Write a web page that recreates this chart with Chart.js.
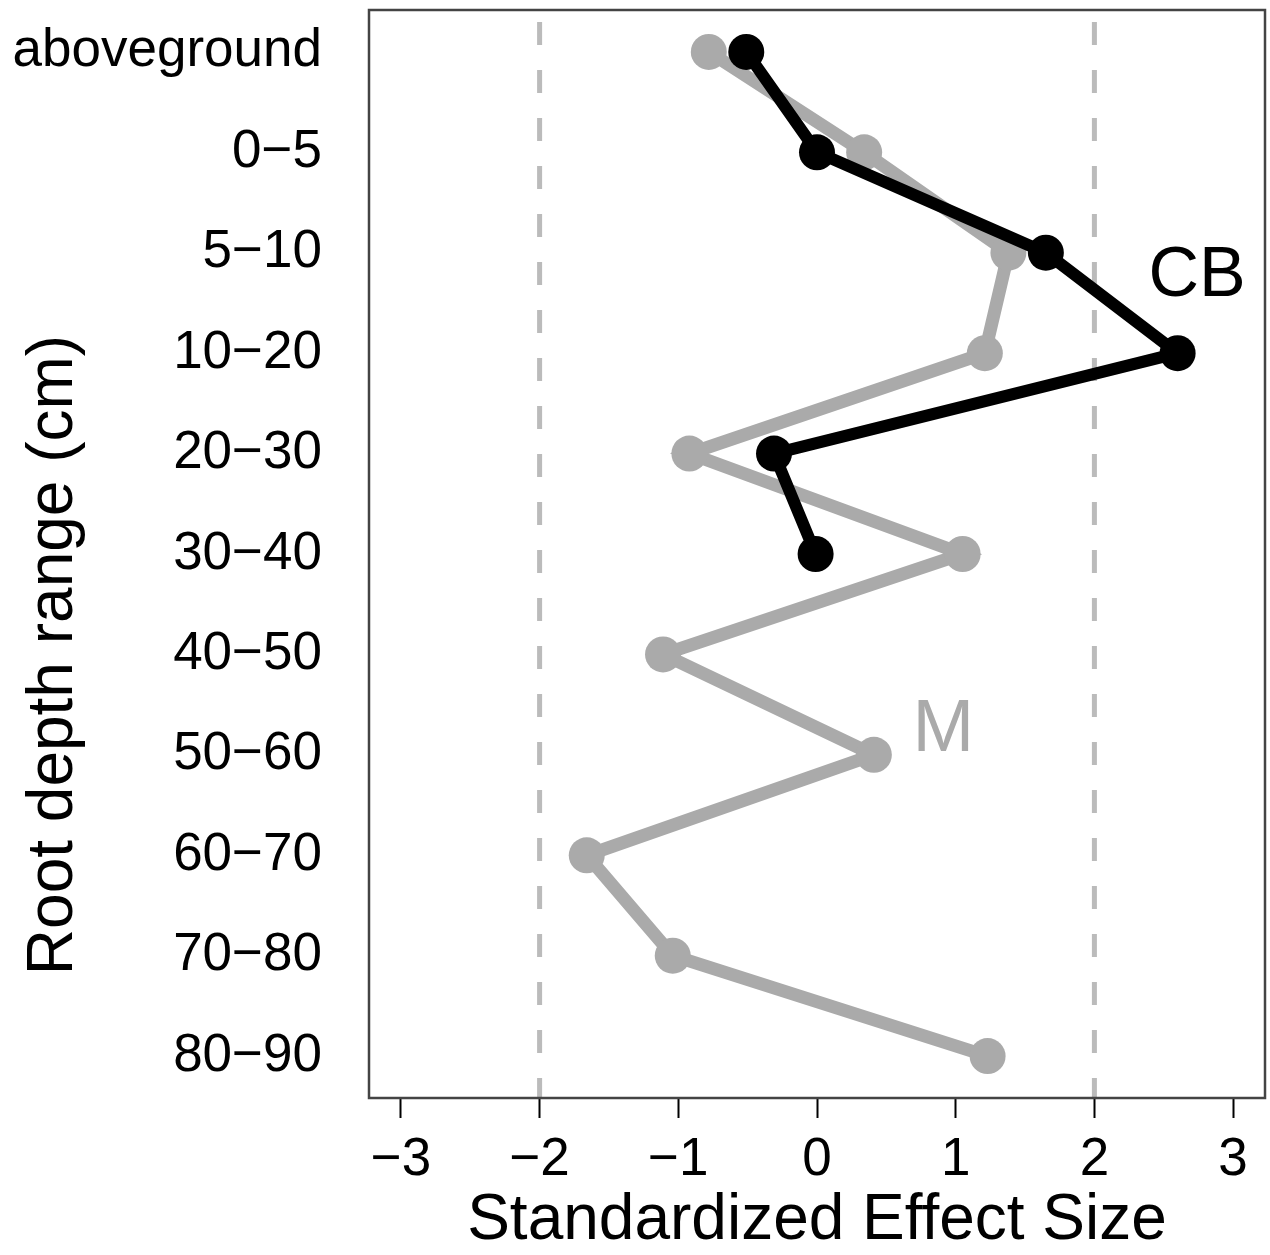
<!DOCTYPE html>
<html>
<head>
<meta charset="utf-8">
<script src="https://cdn.jsdelivr.net/npm/chart.js@4/dist/chart.umd.min.js"></script>
<style>
  body { margin: 0; background: #fff; }
  #wrap { width: 1270px; height: 1255px; }
</style>
</head>
<body>
<div id="wrap"><canvas id="esChart" width="1270" height="1255"></canvas></div>
<script>
const depthLabels = ["aboveground", "0\u22125", "5\u221210", "10\u221220", "20\u221230", "30\u221240",
  "40\u221250", "50\u221260", "60\u221270", "70\u221280", "80\u221290"];
const mValues = [-0.78, 0.34, 1.38, 1.21, -0.92, 1.05, -1.11, 0.41, -1.66, -1.04, 1.23];
const cbValues = [-0.51, 0.0, 1.65, 2.60, -0.31, -0.01];
const xTicks = [-3, -2, -1, 0, 1, 2, 3];
const refLines = [-2, 2];
const seriesTags = [
  { text: "CB", x: 2.74, y: 2.24, size: 70, color: "#000000" },
  { text: "M", x: 0.91, y: 6.76, size: 74, color: "#aaaaaa" }
];
const yTitle = "Root depth range (cm)";

const FONT = "'Liberation Sans', Arial, sans-serif";
Chart.defaults.font.family = FONT;
Chart.defaults.color = "#000";

const toPoints = vals => vals.map((v, i) => ({ x: v, y: i }));

// dashed reference lines, plot box, series tags and the y title
const framePlugin = {
  id: "frame",
  beforeDatasetsDraw(chart) {
    const { ctx, chartArea: a, scales } = chart;
    ctx.save();
    ctx.strokeStyle = "#bbbbbb";
    ctx.lineWidth = 5;
    ctx.setLineDash([23, 25]);
    ctx.lineDashOffset = 36;
    refLines.forEach(v => {
      const px = scales.x.getPixelForValue(v);
      ctx.beginPath();
      ctx.moveTo(px, a.top);
      ctx.lineTo(px, a.bottom);
      ctx.stroke();
    });
    ctx.restore();
  },
  afterDatasetsDraw(chart) {
    const { ctx, chartArea: a, scales } = chart;
    ctx.save();
    ctx.strokeStyle = "#444";
    ctx.lineWidth = 2.5;
    ctx.strokeRect(a.left, a.top, a.right - a.left, a.bottom - a.top);
    ctx.textAlign = "center";
    ctx.textBaseline = "middle";
    seriesTags.forEach(t => {
      ctx.font = t.size + "px " + FONT;
      ctx.fillStyle = t.color;
      ctx.fillText(t.text, scales.x.getPixelForValue(t.x), scales.y.getPixelForValue(t.y));
    });
    // y title, placed a bit below the middle of the plot like the original
    ctx.fillStyle = "#000";
    ctx.font = "64px " + FONT;
    ctx.textBaseline = "alphabetic";
    ctx.translate(72, 655);
    ctx.rotate(-Math.PI / 2);
    ctx.fillText(yTitle, 0, 0);
    ctx.restore();
  }
};

new Chart(document.getElementById("esChart"), {
  type: "line",
  data: {
    datasets: [
      {
        label: "CB",
        data: toPoints(cbValues),
        borderColor: "#000000",
        backgroundColor: "#000000",
        borderWidth: 12,
        pointRadius: 18,
        pointBorderWidth: 0,
        order: 0
      },
      {
        label: "M",
        data: toPoints(mValues),
        borderColor: "#aaaaaa",
        backgroundColor: "#aaaaaa",
        borderWidth: 13,
        pointRadius: 18,
        pointBorderWidth: 0,
        order: 1
      }
    ]
  },
  options: {
    responsive: false,
    animation: false,
    devicePixelRatio: 1,
    layout: { autoPadding: false, padding: { top: 10, right: 5, left: 0, bottom: 0 } },
    plugins: { legend: { display: false }, tooltip: { enabled: false } },
    elements: { line: { tension: 0 } },
    scales: {
      x: {
        type: "linear",
        min: -3.23,
        max: 3.23,
        afterFit(scale) {
          scale.height = 157;
          scale.paddingLeft = 0;
          scale.paddingRight = 0;
        },
        afterBuildTicks(scale) { scale.ticks = xTicks.map(v => ({ value: v })); },
        border: { display: false },
        grid: { drawOnChartArea: false, drawTicks: true, tickLength: 20, tickColor: "#000", tickWidth: 2 },
        ticks: {
          includeBounds: false,
          maxRotation: 0,
          padding: 11,
          font: { size: 53 },
          callback: v => (v < 0 ? "\u2212" + Math.abs(v) : String(v))
        },
        title: {
          display: true,
          text: "Standardized Effect Size",
          font: { size: 64 },
          padding: { top: 0, bottom: -5 }
        }
      },
      y: {
        type: "linear",
        reverse: true,
        min: -0.417,
        max: 10.417,
        afterFit(scale) {
          scale.width = 369;
          scale.paddingTop = 0;
          scale.paddingBottom = 0;
        },
        border: { display: false },
        grid: { display: false, drawTicks: false },
        ticks: {
          stepSize: 1,
          includeBounds: false,
          autoSkip: false,
          padding: 47,
          font: { size: 53 },
          callback: v => depthLabels[v] ?? ""
        }
      }
    }
  },
  plugins: [framePlugin]
});
</script>
</body>
</html>
